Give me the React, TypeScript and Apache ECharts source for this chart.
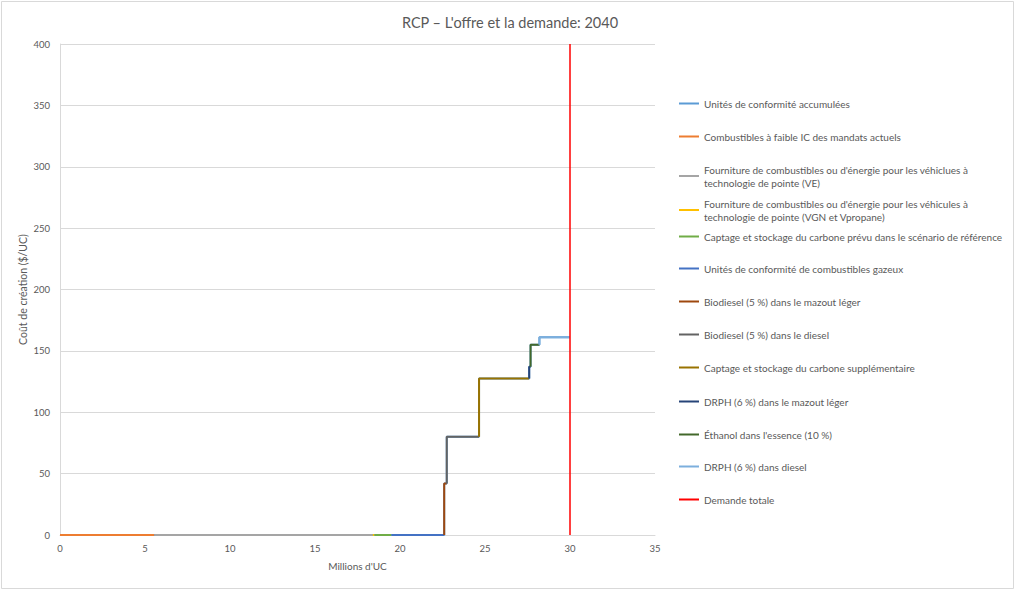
import React, { useEffect, useRef } from "react";
import * as echarts from "echarts";

const TITLE = "RCP – L'offre et la demande: 2040";
const X_NAME = "Millions d'UC";
const Y_NAME = "Coût de création ($/UC)";

const seriesNames = [
  "Unités de conformité accumulées",
  "Combustibles à faible IC des mandats actuels",
  "Fourniture de combustibles ou d'énergie pour les véhiclues à\ntechnologie de pointe (VE)",
  "Fourniture de combustibles ou d'énergie pour les véhicules à\ntechnologie de pointe (VGN et Vpropane)",
  "Captage et stockage du carbone prévu dans le scénario de référence",
  "Unités de conformité de combustibles gazeux",
  "Biodiesel (5 %) dans le mazout léger",
  "Biodiesel (5 %) dans le diesel",
  "Captage et stockage du carbone supplémentaire",
  "DRPH (6 %) dans le mazout léger",
  "Éthanol dans l'essence (10 %)",
  "DRPH (6 %) dans diesel",
  "Demande totale",
];

const seriesColors = [
  "#5B9BD5", "#ED7D31", "#A5A5A5", "#FFC000", "#70AD47", "#4472C4",
  "#9E480E", "#636363", "#997300", "#264478", "#43682B", "#7CAFDD", "#FF0000",
];

// supply steps (for series 1..11): start quantity, end quantity, cost level
const stepStart = [0, 5.55, 18.4, 18.5, 19.5, 22.6, 22.75, 24.65, 27.6, 27.68, 28.2];
const stepEnd = [5.55, 18.4, 18.5, 19.5, 22.6, 22.75, 24.65, 27.6, 27.68, 28.2, 30];
const stepCost = [0, 0, 0, 0, 0, 42, 80, 127.5, 137, 155, 161];

const demandQuantity = 30;
const demandRange = [0, 400];

const legendTops = [104, 137, 170, 204, 237, 269, 302, 335, 368, 402, 435, 467, 500];

export default function App() {
  const ref = useRef<HTMLDivElement>(null);
  useEffect(() => {
    document.body.style.margin = "0";
    const chart = echarts.init(ref.current!, null, { renderer: "svg" });
    const font = "Lato, 'Open Sans', sans-serif";
    const textColor = "#595959";

    const stepSeries = stepStart.map((x0, i) => {
      const prev = i === 0 ? 0 : stepCost[i - 1];
      return [
        [x0, prev],
        [x0, stepCost[i]],
        [stepEnd[i], stepCost[i]],
      ];
    });
    const accumulated: number[][] = [];
    stepSeries.forEach((pts) => pts.forEach((p) => accumulated.push(p)));

    const allData: number[][][] = [
      accumulated,
      ...stepSeries,
      [[demandQuantity, demandRange[0]], [demandQuantity, demandRange[1]]],
    ];

    const series = seriesNames.map((name, i) => ({
      name,
      type: "line",
      data: allData[i],
      symbol: "none",
      showSymbol: false,
      lineStyle: { color: seriesColors[i], width: i === 12 ? 1.5 : 2 },
      itemStyle: { color: seriesColors[i] },
      z: 2 + i,
    }));

    const legends = seriesNames.map((name, i) => ({
      data: [name],
      orient: "vertical",
      left: 679,
      top: legendTops[i] - 7,
      padding: 0,
      icon: "rect",
      itemWidth: 20,
      itemHeight: 2,
      itemGap: 0,
      textStyle: { fontSize: 10, color: textColor, fontFamily: font, lineHeight: 13 },
      selectedMode: false,
    }));

    chart.setOption({
      animation: false,
      backgroundColor: "#ffffff",
      title: {
        text: TITLE,
        left: 505,
        top: 10,
        textAlign: "center",
        textStyle: { fontSize: 14.5, fontWeight: "normal", color: textColor, fontFamily: font },
      },
      legend: legends,
      grid: { left: 60, right: 361, top: 44, bottom: 56, containLabel: false },
      xAxis: {
        type: "value",
        min: 0,
        max: 35,
        interval: 5,
        name: X_NAME,
        nameLocation: "middle",
        nameGap: 26,
        nameMoveOverlap: false,
        nameTextStyle: { fontSize: 10, color: textColor, fontFamily: font },
        axisLine: { show: true, lineStyle: { color: "#d9d9d9", width: 1 } },
        axisTick: { show: false },
        axisLabel: { fontSize: 9.5, color: textColor, fontFamily: font, margin: 8 },
        splitLine: { show: false },
      },
      yAxis: {
        type: "value",
        min: 0,
        max: 400,
        interval: 50,
        name: Y_NAME,
        nameLocation: "middle",
        nameGap: 37,
        nameMoveOverlap: false,
        nameRotate: 90,
        nameTextStyle: { fontSize: 10.5, color: textColor, fontFamily: font, verticalAlign: "middle" },
        axisLine: { show: true, lineStyle: { color: "#d9d9d9", width: 1 } },
        axisTick: { show: false },
        axisLabel: { fontSize: 9.5, color: textColor, fontFamily: font, margin: 10 },
        splitLine: { show: true, lineStyle: { color: "#d9d9d9", width: 1 } },
      },
      graphic: [
        {
          type: "rect",
          shape: { x: 1.5, y: 1.5, width: 1012, height: 587 },
          style: { fill: "none", stroke: "#d9d9d9", lineWidth: 1 },
          silent: true,
        },
      ],
      series,
    });
    return () => chart.dispose();
  }, []);
  return <div ref={ref} style={{ width: 1016, height: 591, position: "absolute", left: 0, top: 0 }} />;
}
